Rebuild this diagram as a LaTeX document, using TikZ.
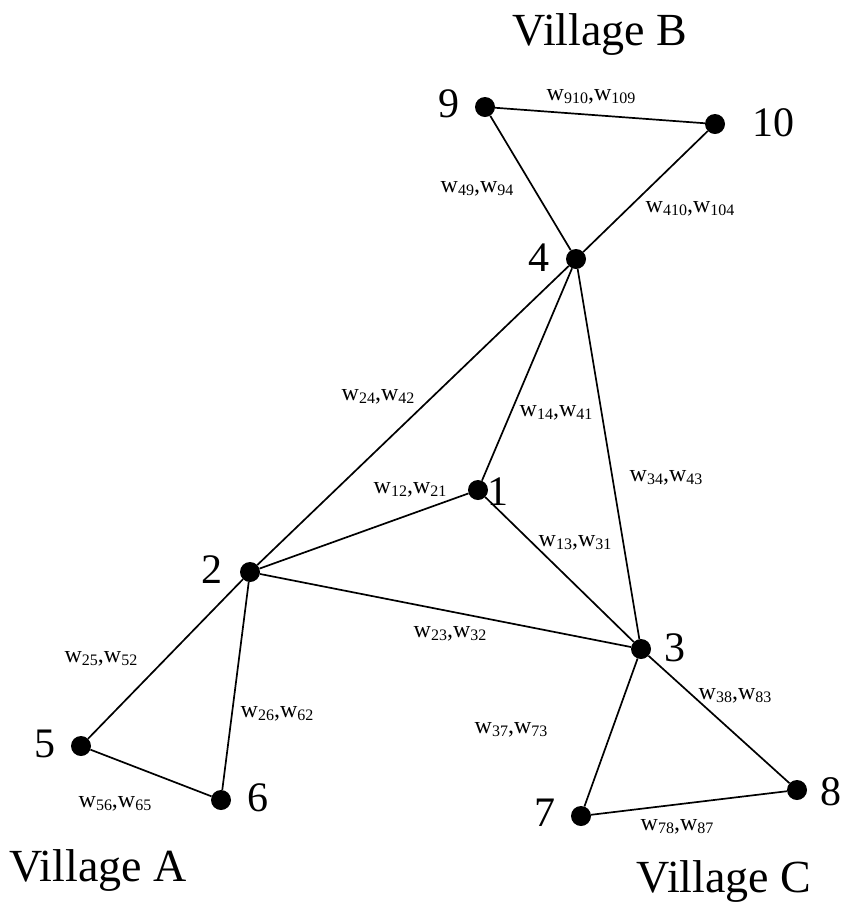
\documentclass[tikz,border=0pt]{standalone}
\usepackage{fontspec}
\setmainfont{Liberation Serif}
\newcommand\wsub[1]{\raisebox{-0.28ex}{\fontsize{16}{16}\selectfont #1}}
\newcommand\wpair[2]{w\wsub{#1},w\wsub{#2}}
\begin{document}
\begin{tikzpicture}[x=1pt,y=-1pt,
  dot/.style={circle,fill=black,inner sep=0pt,minimum size=20pt},
  num/.style={inner sep=0pt,font=\fontsize{42}{42}\selectfont},
  vil/.style={inner sep=0pt,anchor=base,font=\fontsize{46}{46}\selectfont},
  wlab/.style={inner sep=0pt,font=\fontsize{24}{24}\selectfont},
  edge/.style={line width=1.7pt}]
\useasboundingbox (0,0) rectangle (846,906);
% vertices
\node[dot] (n9) at (485,107) {};
\node[dot] (n10) at (715,124) {};
\node[dot] (n4) at (576,259) {};
\node[dot] (n1) at (478,490) {};
\node[dot] (n2) at (250,572) {};
\node[dot] (n3) at (641,649) {};
\node[dot] (n5) at (81,746) {};
\node[dot] (n6) at (221,800) {};
\node[dot] (n7) at (581,816) {};
\node[dot] (n8) at (797,790) {};
% edges
\draw[edge] (n9) -- (n10);
\draw[edge] (n9) -- (n4);
\draw[edge] (n10) -- (n4);
\draw[edge] (n4) -- (n2);
\draw[edge] (n4) -- (n1);
\draw[edge] (n4) -- (n3);
\draw[edge] (n1) -- (n2);
\draw[edge] (n1) -- (n3);
\draw[edge] (n2) -- (n3);
\draw[edge] (n2) -- (n5);
\draw[edge] (n2) -- (n6);
\draw[edge] (n5) -- (n6);
\draw[edge] (n3) -- (n7);
\draw[edge] (n3) -- (n8);
\draw[edge] (n7) -- (n8);
% vertex numbers
\node[num] (l9) at (449,104) {9};
\node[num] (l10) at (773,123) {10};
\node[num] (l4) at (539,258) {4};
\node[num] (l1) at (498,492) {1};
\node[num] (l2) at (212,570) {2};
\node[num] (l3) at (675,648) {3};
\node[num] (l5) at (45,744) {5};
\node[num] (l6) at (258,798) {6};
\node[num] (l7) at (545,813) {7};
\node[num] (l8) at (831,792) {8};
% edge labels
\node[wlab] (w910) at (591,97) {\wpair{910}{109}};
\node[wlab] (w49) at (477,189) {\wpair{49}{94}};
\node[wlab] (w410) at (690,209) {\wpair{410}{104}};
\node[wlab] (w24) at (378,397) {\wpair{24}{42}};
\node[wlab] (w14) at (556,413) {\wpair{14}{41}};
\node[wlab] (w34) at (666,478) {\wpair{34}{43}};
\node[wlab] (w12) at (410,490) {\wpair{12}{21}};
\node[wlab] (w13) at (575,543) {\wpair{13}{31}};
\node[wlab] (w23) at (450,634) {\wpair{23}{32}};
\node[wlab] (w25) at (101,659) {\wpair{25}{52}};
\node[wlab] (w26) at (277,714) {\wpair{26}{62}};
\node[wlab] (w37) at (511,730) {\wpair{37}{73}};
\node[wlab] (w38) at (735,696) {\wpair{38}{83}};
\node[wlab] (w56) at (115,804) {\wpair{56}{65}};
\node[wlab] (w78) at (677,827) {\wpair{78}{87}};
% village names
\node[vil] (vB) at (600,45) {Village B};
\node[vil] (vA) at (98,881) {Village A};
\node[vil] (vC) at (724,892) {Village C};
\end{tikzpicture}
\end{document}
